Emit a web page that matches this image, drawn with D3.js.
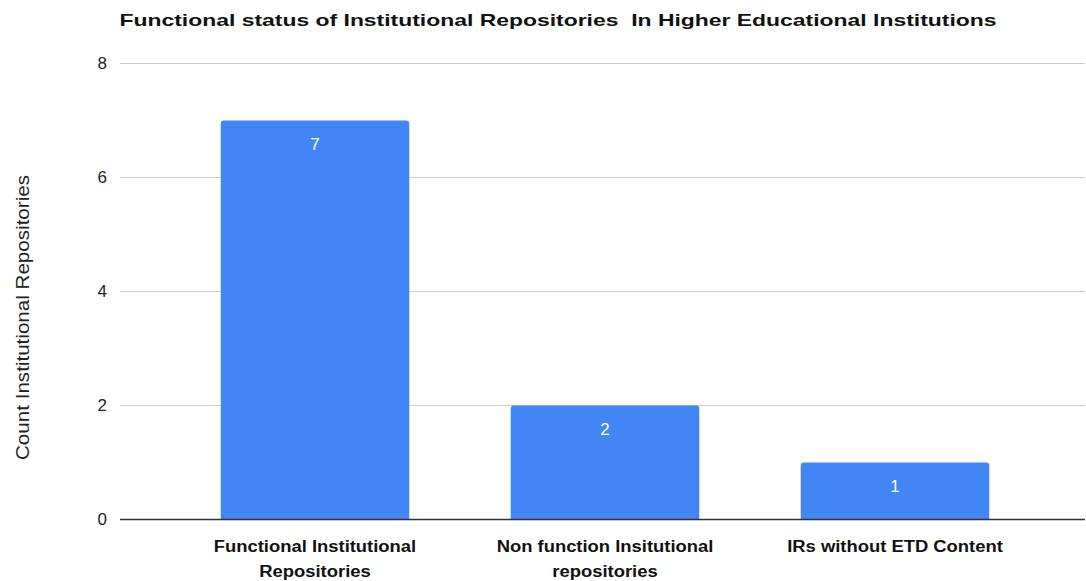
<!DOCTYPE html>
<html><head><meta charset="utf-8">
<script src="https://cdn.jsdelivr.net/npm/d3@7"></script>
<style>body{margin:0;background:#fff;} text{font-family:"Liberation Sans",Arial,sans-serif;}</style>
</head><body>
<svg id="c" width="1086" height="581"></svg>
<script>
const categories = [["Functional Institutional","Repositories"],["Non function Insitutional","repositories"],["IRs without ETD Content"]];
const values = [7, 2, 1];
const yTicks = [0, 2, 4, 6, 8];
const title = "Functional status of Institutional Repositories  In Higher Educational Institutions";
const yTitle = "Count Institutional Repositories";

const svg = d3.select("#c");
const keys = categories.map((c,i)=>"c"+i);
const x = d3.scaleBand().domain(keys).range([170, 1040]).paddingInner(0.35).paddingOuter(0.175);
const y = d3.scaleLinear().domain([0, 8]).range([519.5, 63.5]);
const gridX0 = 120, gridX1 = 1085;

svg.append("g").selectAll("line").data(yTicks.filter(t=>t>0)).join("line")
  .attr("x1", gridX0).attr("x2", gridX1)
  .attr("y1", d=>y(d)).attr("y2", d=>y(d))
  .attr("stroke", "#cccccc").attr("stroke-width", 1);

svg.append("g").selectAll("text").data(yTicks).join("text")
  .attr("x", 107).attr("y", d=>y(d)).attr("dy", "0.35em")
  .attr("text-anchor", "end").attr("font-size", 17).attr("fill", "#222")
  .text(d=>d);

const r = 3;
function barPath(x0, w, yTop, yBot){
  return `M${x0},${yBot}V${yTop+r}Q${x0},${yTop} ${x0+r},${yTop}H${x0+w-r}Q${x0+w},${yTop} ${x0+w},${yTop+r}V${yBot}Z`;
}
svg.append("g").selectAll("path").data(values).join("path")
  .attr("d", (d,i)=>barPath(x(keys[i]), x.bandwidth(), y(d), y(0)))
  .attr("fill", "#4285f4");

svg.append("g").selectAll("text").data(values).join("text")
  .attr("x", (d,i)=>x(keys[i]) + x.bandwidth()/2)
  .attr("y", d=>y(d) + 29)
  .attr("text-anchor", "middle").attr("font-size", 17).attr("fill", "#ffffff")
  .text(d=>d);

svg.append("line").attr("x1", gridX0).attr("x2", gridX1)
  .attr("y1", y(0)).attr("y2", y(0)).attr("stroke", "#333").attr("stroke-width", 1.5);

const stretch = 1.15;
const cl = svg.append("g").selectAll("text").data(categories).join("text")
  .attr("text-anchor", "middle").attr("font-size", 16).attr("font-weight", "bold").attr("fill", "#111");
cl.each(function(d,i){
  const t = d3.select(this);
  d.forEach((line,j)=>{
    const ts = t.append("tspan").attr("x", x(keys[i]) + x.bandwidth()/2).attr("y", 552 + j*25).text(line);
    const L = ts.node().getComputedTextLength();
    ts.attr("textLength", L*stretch).attr("lengthAdjust", "spacingAndGlyphs");
  });
});

svg.append("text").attr("x", 558).attr("y", 26).attr("text-anchor", "middle")
  .style("white-space", "pre")
  .attr("font-size", 17).attr("font-weight", "bold").attr("fill", "#111")
  .attr("textLength", 877).attr("lengthAdjust", "spacingAndGlyphs")
  .text(title);

svg.append("text").attr("transform", "translate(29,317.5) rotate(-90)")
  .attr("text-anchor", "middle").attr("font-size", 18).attr("fill", "#222")
  .attr("textLength", 285).attr("lengthAdjust", "spacingAndGlyphs")
  .text(yTitle);
</script>
</body></html>
